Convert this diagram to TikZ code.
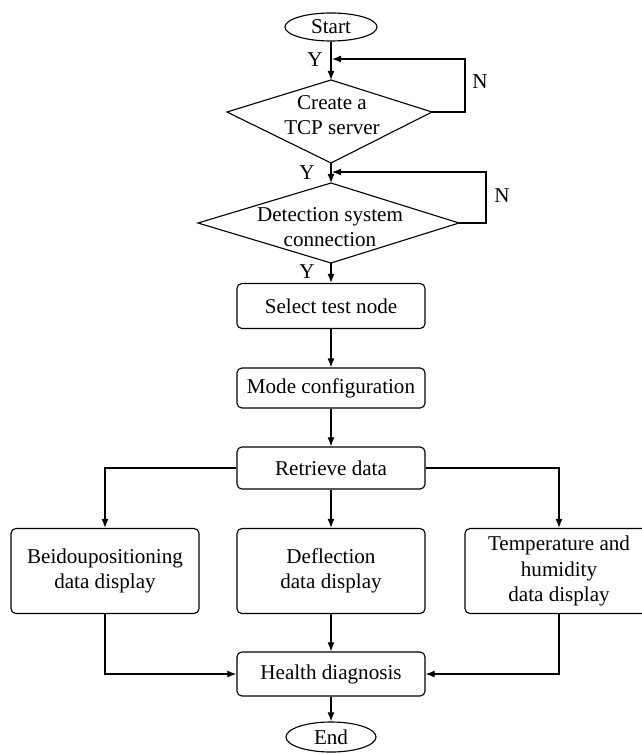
\documentclass[tikz,border=0pt]{standalone}
\usepackage{fontspec}
\setmainfont{Liberation Serif}
\usetikzlibrary{shapes.geometric,arrows.meta}

\begin{document}
\begin{tikzpicture}[x=0.025cm, y=-0.025cm, line width=0.8pt, >={Latex[length=6.5pt,width=5pt]},
  font=\fontsize{15}{18}\selectfont,
  box/.style={draw, rounded corners=3.5pt, minimum width=4.7cm, align=center, inner sep=2pt},
  term/.style={draw, ellipse, minimum width=2.3cm, minimum height=0.7cm, inner sep=0pt},
  lbl/.style={inner sep=1pt}]
\useasboundingbox (0,0) rectangle (641,754);
\node[term] (start) at (331,27) {Start};
%decisions
\draw (331,80) coordinate (d1t) -- (432,112) coordinate (d1r) -- (331,163) coordinate (d1b) -- (227,112) coordinate (d1l) -- cycle;
\node[align=center] (tcp) at (332,115) {Create a\\TCP server};
\draw (331,183) coordinate (d2t) -- (459,223) coordinate (d2r) -- (331,263) coordinate (d2b) -- (198,223) coordinate (d2l) -- cycle;
\node[align=center] (det) at (330,227) {Detection system\\connection};
\coordinate (j1) at (332,59);
\coordinate (j2) at (332,172);
\path (315,60) node[lbl] (y1) {Y};
\path (480,82) node[lbl] (n1) {N};
\path (307,173) node[lbl] (y2) {Y};
\path (502,196) node[lbl] (n2) {N};
\path (307,272) node[lbl] (y3) {Y};
%steps
\node[box, minimum height=1.125cm] (sel) at (331,306) {Select test node};
\node[box, minimum height=1cm] (mode) at (331,388) {Mode configuration};
\node[box, minimum height=1.05cm] (ret) at (331,468) {Retrieve data};
\node[box, minimum height=2.125cm] (bei) at (105,571) {Beidoupositioning\\data display};
\node[box, minimum height=2.125cm] (defl) at (331,571) {Deflection\\data display};
\node[box, minimum height=2.125cm] (temp) at (559,571) {Temperature and\\humidity\\data display};
\node[box, minimum height=1.1cm] (health) at (331,674) {Health diagnosis};
\node[term, minimum width=2.25cm, minimum height=0.75cm] (end) at (331,737) {End};
%arrows
\draw[->] (start) -- (d1t);
\draw[->] (d1r) -- ++(33,0) |- (j1);
\draw[->] (d1b) -- (d2t);
\draw[->] (d2r) -- ++(27,0) |- (j2);
\draw[->] (d2b) -- (sel);
\draw[->] (sel) -- (mode);
\draw[->] (mode) -- (ret);
\draw[->] (ret.west) -| (bei.north);
\draw[->] (ret) -- (defl);
\draw[->] (ret.east) -| (temp.north);
\draw[->] (bei.south) |- (health.west);
\draw[->] (defl) -- (health);
\draw[->] (temp.south) |- (health.east);
\draw[->] (health) -- (end);
\end{tikzpicture}
\end{document}
